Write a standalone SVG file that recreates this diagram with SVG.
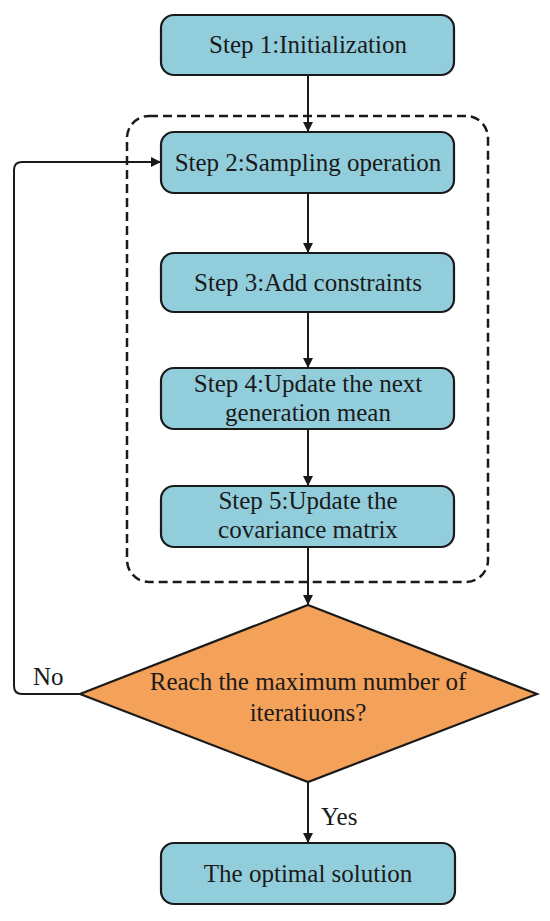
<svg xmlns="http://www.w3.org/2000/svg" width="550" height="921" viewBox="0 0 550 921">
<style>
.box{fill:#92CDDC;stroke:#1a1a1a;stroke-width:2.2}
.dia{fill:#F4A15A;stroke:#1a1a1a;stroke-width:2.2}
.lbl{font-family:"Liberation Serif","Times New Roman",serif;font-size:25px;fill:#1a1a1a}
.mid{text-anchor:middle}
.c{fill:none;stroke:#1a1a1a;stroke-width:2}
</style>
<defs>
<marker id="ah" markerWidth="10" markerHeight="10" refX="9" refY="5" orient="auto" markerUnits="userSpaceOnUse">
<path d="M0,0 L10,5 L0,10 Z" fill="#1a1a1a"/>
</marker>
</defs>
<rect id="group-box" x="127" y="116" width="361" height="466" rx="22" fill="none" stroke="#1a1a1a" stroke-width="2.5" stroke-dasharray="9,5"/>
<g id="connectors">
<line class="c" x1="308" y1="75" x2="308" y2="131" marker-end="url(#ah)"/>
<line class="c" x1="308" y1="193" x2="308" y2="252" marker-end="url(#ah)"/>
<line class="c" x1="308" y1="312" x2="308" y2="367" marker-end="url(#ah)"/>
<line class="c" x1="308" y1="429" x2="308" y2="485" marker-end="url(#ah)"/>
<line class="c" x1="308" y1="547" x2="308" y2="604" marker-end="url(#ah)"/>
<line class="c" x1="308" y1="782" x2="308" y2="842" marker-end="url(#ah)"/>
<path class="c" d="M80,694 H22 Q14,694 14,686 V170 Q14,162 22,162 H160" marker-end="url(#ah)"/>
<text class="lbl" x="33" y="685">No</text>
<text class="lbl" x="321" y="825">Yes</text>
</g>
<g id="step1">
<rect class="box" x="161" y="15" width="293" height="60" rx="13"/>
<text class="lbl mid" x="308" y="53">Step 1:Initialization</text>
</g>
<g id="step2">
<rect class="box" x="161" y="132" width="293" height="61" rx="13"/>
<text class="lbl mid" x="308" y="171">Step 2:Sampling operation</text>
</g>
<g id="step3">
<rect class="box" x="161" y="253" width="293" height="59" rx="13"/>
<text class="lbl mid" x="308" y="291">Step 3:Add constraints</text>
</g>
<g id="step4">
<rect class="box" x="161" y="368" width="293" height="61" rx="13"/>
<text class="lbl mid" x="308" y="392">Step 4:Update the next</text>
<text class="lbl mid" x="308" y="421">generation mean</text>
</g>
<g id="step5">
<rect class="box" x="161" y="486" width="293" height="61" rx="13"/>
<text class="lbl mid" x="308" y="509">Step 5:Update the</text>
<text class="lbl mid" x="308" y="538">covariance matrix</text>
</g>
<g id="decision">
<polygon class="dia" points="308,605 537,694 308,782 80,694"/>
<text class="lbl mid" x="308" y="690">Reach the maximum number of</text>
<text class="lbl mid" x="308" y="721">iteratiuons?</text>
</g>
<g id="result">
<rect class="box" x="161" y="843" width="294" height="61" rx="13"/>
<text class="lbl mid" x="308" y="882">The optimal solution</text>
</g>
</svg>
